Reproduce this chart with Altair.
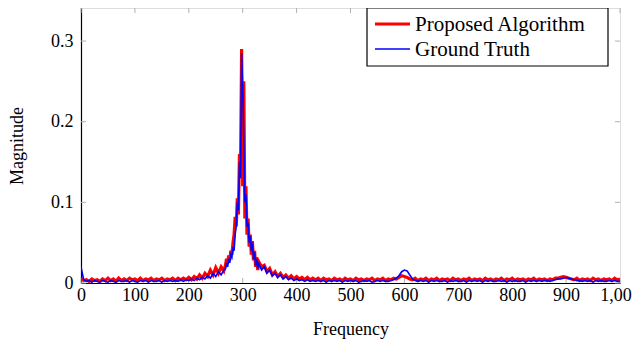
import altair as alt
import pandas as pd

# sample grid (Hz)
freq_a = list(range(0, 266, 5))
freq_b = list(range(268, 331, 2))
freq_c = list(range(335, 1001, 5))
freq = freq_a + freq_b + freq_c

ground_truth = [
    .020, .004, .002, .003, .001, .003, .002, .001, .003, .002,
    .001, .003, .002, .001, .003, .002, .002, .003, .001, .003,
    .002, .001, .003, .002, .003, .001, .003, .002, .002, .003,
    .001, .003, .002, .003, .002, .003, .002, .004, .002, .004,
    .003, .005, .003, .006, .004, .007, .005, .009, .006, .012,
    .008, .014, .010, .016,
    .018, .025, .020, .030, .025, .035, .032, .045, .040, .060,
    .070, .100, .090, .150, .130, .285, .240, .180, .100, .110,
    .070, .075, .050, .058, .040, .050, .030, .038, .022, .030,
    .018, .024,
    .016, .020, .012, .016, .009, .012, .007, .010, .005, .008,
    .004, .006, .003, .005, .003, .004, .002, .004, .002, .003,
    .002, .003, .002, .003, .001, .003, .002, .003, .002, .003,
    .001, .003, .002, .003, .002, .003, .001, .002, .003, .002,
    .003, .001, .002, .003, .002, .003, .002, .002, .003, .004,
    .006, .009, .014, .016, .015, .010, .005, .003, .002, .003,
    .002, .003, .001, .003, .002, .003, .002, .002, .003, .001,
    .003, .002, .003, .002, .002, .003, .001, .003, .002, .003,
    .002, .003, .001, .003, .002, .003, .002, .002, .003, .002,
    .003, .001, .003, .002, .003, .002, .002, .003, .001, .003,
    .002, .003, .002, .003, .002, .003, .003, .002, .003, .004,
    .005, .005, .006, .007, .006, .005, .004, .003, .003, .002,
    .003, .002, .003, .001, .003, .002, .003, .002, .002, .003,
    .002, .003, .002, .002,
]

proposed = [
    .006, .003, .004, .002, .005, .003, .004, .002, .005, .003,
    .006, .003, .005, .002, .006, .003, .005, .003, .006, .004,
    .005, .003, .006, .003, .005, .004, .006, .003, .005, .004,
    .006, .003, .005, .004, .006, .003, .006, .004, .006, .004,
    .007, .004, .008, .005, .010, .006, .012, .008, .016, .010,
    .019, .012, .020, .015,
    .022, .030, .024, .034, .028, .040, .035, .050, .060, .082,
    .070, .105, .085, .160, .140, .290, .120, .250, .080, .120,
    .060, .080, .045, .060, .035, .052, .028, .040, .020, .032,
    .016, .026,
    .020, .022, .014, .018, .010, .014, .008, .012, .007, .010,
    .006, .009, .005, .008, .005, .007, .004, .007, .004, .006,
    .004, .006, .003, .006, .004, .005, .003, .006, .004, .005,
    .003, .006, .004, .005, .003, .006, .004, .005, .003, .005,
    .004, .006, .003, .005, .004, .006, .003, .005, .004, .006,
    .005, .007, .009, .008, .007, .005, .004, .006, .003, .005,
    .004, .006, .003, .005, .004, .006, .003, .005, .004, .005,
    .003, .006, .004, .005, .003, .005, .004, .006, .003, .005,
    .004, .005, .003, .006, .004, .005, .003, .005, .004, .006,
    .003, .005, .004, .006, .003, .005, .004, .005, .003, .005,
    .004, .006, .003, .005, .004, .005, .003, .005, .004, .006,
    .006, .007, .008, .007, .006, .005, .004, .006, .003, .005,
    .004, .005, .003, .006, .004, .005, .003, .005, .004, .005,
    .003, .006, .004, .005,
]

series_names = ["Proposed Algorithm", "Ground Truth"]
series_colors = ["#ff0000", "#0000ff"]
series_widths = [3.2, 1.6]

x_ticks = [0, 100, 200, 300, 400, 500, 600, 700, 800, 900, 1000]
y_ticks = [0, 0.1, 0.2, 0.3]

W, H = 539, 275
FONT = "Liberation Serif, Times New Roman, DejaVu Serif, serif"

df = pd.concat([
    pd.DataFrame({"freq": freq, "mag": proposed, "series": series_names[0]}),
    pd.DataFrame({"freq": freq, "mag": ground_truth, "series": series_names[1]}),
])

xscale = alt.Scale(domain=[0, 1000], nice=False)
yscale = alt.Scale(domain=[0, 0.341], nice=False)
cscale = alt.Scale(domain=series_names, range=series_colors)
wscale = alt.Scale(domain=series_names, range=series_widths)

xaxis = alt.Axis(values=x_ticks, format=",d", ticks=False, domain=True, domainColor="black",
                 domainWidth=1.2, grid=False, labelFlush=False, labelOverlap=False,
                 labelFont=FONT, labelFontSize=18, labelColor="black", labelPadding=3,
                 titleFont=FONT, titleFontSize=18, titleFontWeight="normal",
                 titleColor="black", titlePadding=16)
yaxis = alt.Axis(values=y_ticks, ticks=False, domain=True, domainColor="black",
                 domainWidth=1.2, grid=False, labelOverlap=False, labelFlush=False,
                 labelExpr="datum.value == 0 ? '0' : format(datum.value, '.1f')",
                 labelFont=FONT, labelFontSize=18, labelColor="black", labelPadding=8,
                 titleFont=FONT, titleFontSize=18, titleFontWeight="normal",
                 titleColor="black", titlePadding=24)

X = alt.X("freq:Q", scale=xscale, title="Frequency", axis=xaxis)
Y = alt.Y("mag:Q", scale=yscale, title="Magnitude", axis=yaxis)


def line_layer(name):
    return alt.Chart(df).transform_filter(alt.datum.series == name).mark_line(
        strokeJoin="miter", strokeCap="butt", clip=True
    ).encode(
        x=X, y=Y,
        color=alt.Color("series:N", scale=cscale, legend=None),
        strokeWidth=alt.StrokeWidth("series:N", scale=wscale, legend=None),
        detail="series:N",
    )

xt = pd.DataFrame({"freq": x_ticks})
yt = pd.DataFrame({"mag": y_ticks})
tick_color = "#b0b0b0"
tick_len = 5

xt_bottom = alt.Chart(xt).mark_rule(color=tick_color, strokeWidth=1).encode(
    x=X, y=alt.value(H - tick_len), y2=alt.value(H))
xt_top = alt.Chart(xt).mark_rule(color=tick_color, strokeWidth=1).encode(
    x=X, y=alt.value(0), y2=alt.value(tick_len))
yt_left = alt.Chart(yt).mark_rule(color=tick_color, strokeWidth=1).encode(
    y=Y, x=alt.value(0), x2=alt.value(tick_len))
yt_right = alt.Chart(yt).mark_rule(color=tick_color, strokeWidth=1).encode(
    y=Y, x=alt.value(W - tick_len), x2=alt.value(W))

# ---- legend (drawn as a boxed key in the top-right corner) ----
one = pd.DataFrame({"k": [0]})
LX0, LX1, LY0, LY1 = 286, 527, 0, 58
row_y = [16, 41]
legend_layers = [
    alt.Chart(one).mark_rect(fill="white", stroke="black", strokeWidth=1.2).encode(
        x=alt.value(LX0), x2=alt.value(LX1), y=alt.value(LY0), y2=alt.value(LY1))
]
for name, col, wid, ry in zip(series_names, series_colors, series_widths, row_y):
    legend_layers.append(
        alt.Chart(one).mark_rule(color=col, strokeWidth=wid, strokeCap="butt").encode(
            x=alt.value(LX0 + 8), x2=alt.value(LX0 + 43), y=alt.value(ry))
    )
    legend_layers.append(
        alt.Chart(one).mark_text(align="left", baseline="middle", font=FONT,
                                 fontSize=21, color="black").encode(
            x=alt.value(LX0 + 48), y=alt.value(ry + 1), text=alt.value(name))
    )

chart = alt.layer(
    xt_bottom, xt_top, yt_left, yt_right,
    line_layer(series_names[0]), line_layer(series_names[1]),
    *legend_layers,
).properties(
    width=W, height=H,
    autosize=alt.AutoSizeParams(type="none"),
    padding={"left": 73, "top": 0, "right": 12, "bottom": 58},
).configure_view(
    stroke="black", strokeWidth=1.2
).configure(background="white")

chart.save("out.html", embed_options={"renderer": "svg", "actions": False})
